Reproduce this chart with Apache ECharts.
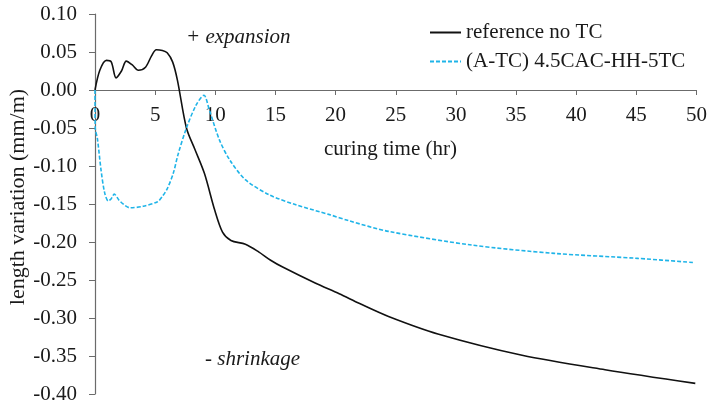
<!DOCTYPE html>
<html>
<head>
<meta charset="utf-8">
<script src="https://cdn.jsdelivr.net/npm/echarts@6/dist/echarts.min.js"></script>
<style>
html,body{margin:0;padding:0;background:#fff;}
#c{width:710px;height:406px;}
</style>
</head>
<body>
<div id="c"></div>
<script>
var refName = 'reference no TC';
var tcName = '(A-TC) 4.5CAC-HH-5TC';
var refX = [0, 0.4, 0.95, 1.35, 1.75, 2.2, 2.6, 3.1, 3.6, 4.2, 4.7, 5.1, 5.6, 6.0, 6.45, 6.85, 7.6, 8.3, 9.1, 9.95, 10.6, 11.3, 12.5, 13.6, 14.6, 15.6, 18.3, 20.3, 22.0, 24.4, 28.5, 35.5, 42.4, 49.9];
var refY = [0, 0.026, 0.039, 0.037, 0.016, 0.025, 0.038, 0.033, 0.026, 0.030, 0.045, 0.053, 0.052, 0.049, 0.037, 0.013, -0.05, -0.078, -0.11, -0.158, -0.187, -0.198, -0.203, -0.213, -0.224, -0.233, -0.254, -0.268, -0.281, -0.298, -0.321, -0.349, -0.368, -0.386];
var tcX = [0, 0.02, 0.2, 0.5, 0.8, 1.1, 1.35, 1.6, 2.0, 2.5, 2.9, 4.0, 5.2, 5.6, 6.0, 6.5, 6.9, 7.6, 8.4, 9.05, 9.5, 10.35, 11.2, 12.5, 14.5, 16.7, 19.5, 21.1, 24.4, 31.3, 38.2, 45.1, 49.7];
var tcY = [0, -0.05, -0.064, -0.105, -0.135, -0.146, -0.143, -0.137, -0.145, -0.152, -0.155, -0.153, -0.147, -0.14, -0.13, -0.11, -0.085, -0.05, -0.02, -0.007, -0.026, -0.066, -0.092, -0.118, -0.138, -0.151, -0.164, -0.172, -0.186, -0.204, -0.215, -0.2215, -0.227];
var xTicks = {min: 0, max: 50, interval: 5};
var yTicks = {min: -0.4, max: 0.1, interval: 0.05};
var xTitle = 'curing time (hr)';
var yTitle = 'length variation (mm/m)';
var noteUp = '+ expansion';
var noteDown = '- shrinkage';

function pairs(xs, ys){ return xs.map(function(x,i){return [x, ys[i]];}); }
var FONT = '"Liberation Serif", "Times New Roman", serif';
var TXT = '#1a1a1a';
var AX = '#6b6b6b';
var chart = echarts.init(document.getElementById('c'));
var gridTop = 14, gridBottomPx = 394;
var zeroPx = gridTop + (gridBottomPx - gridTop) * (yTicks.max / (yTicks.max - yTicks.min));
chart.setOption({
  animation: false,
  textStyle: {fontFamily: FONT, color: TXT},
  grid: {left: 95, right: 11, top: gridTop, bottom: 406 - gridBottomPx, containLabel: false},
  legend: {
    orient: 'vertical', left: 429, top: 22, padding: 0, itemWidth: 31, itemHeight: 14, itemGap: 8,
    textStyle: {fontFamily: FONT, fontSize: 21, color: TXT},
    itemStyle: {color: 'rgba(0,0,0,0)', borderColor: 'rgba(0,0,0,0)', borderWidth: 0, opacity: 0},
    data: [refName, tcName]
  },
  xAxis: {
    type: 'value', min: xTicks.min, max: xTicks.max, interval: xTicks.interval,
    position: 'bottom', offset: -(gridBottomPx - zeroPx),
    axisLine: {onZero: false, lineStyle: {color: AX, width: 1.2}},
    axisTick: {show: true, inside: false, length: 5, lineStyle: {color: AX}},
    axisLabel: {fontFamily: FONT, fontSize: 21, color: TXT, margin: 15},
    splitLine: {show: false}
  },
  yAxis: {
    type: 'value', min: yTicks.min, max: yTicks.max, interval: yTicks.interval,
    axisLine: {show: true, lineStyle: {color: AX, width: 1.2}},
    axisTick: {show: true, length: 6, lineStyle: {color: AX}},
    axisLabel: {fontFamily: FONT, fontSize: 21, color: TXT, margin: 18,
      formatter: function(v){ return v.toFixed(2); }},
    splitLine: {show: false}
  },
  graphic: [
    {type: 'text', x: 18, y: 197, rotation: Math.PI / 2,
     style: {text: yTitle, font: '22px ' + FONT, fill: TXT, align: 'center', verticalAlign: 'middle'}},
    {type: 'text', left: 324, top: 139, style: {text: xTitle, font: '21px ' + FONT, fill: TXT}},
    {type: 'text', left: 186, top: 27, style: {text: noteUp, font: 'italic 21px ' + FONT, fill: TXT}},
    {type: 'text', left: 205, top: 349, style: {text: noteDown, font: 'italic 21px ' + FONT, fill: TXT}}
  ],
  series: [
    {name: refName, type: 'line', data: pairs(refX, refY), smooth: 0.3, symbol: 'none',
     lineStyle: {color: '#111', width: 1.6}, itemStyle: {color: '#111'}},
    {name: tcName, type: 'line', data: pairs(tcX, tcY), smooth: 0.3, symbol: 'none',
     lineStyle: {color: '#1fb4e8', width: 1.6, type: [4, 2]}, itemStyle: {color: '#1fb4e8'}}
  ]
});
</script>
</body>
</html>
